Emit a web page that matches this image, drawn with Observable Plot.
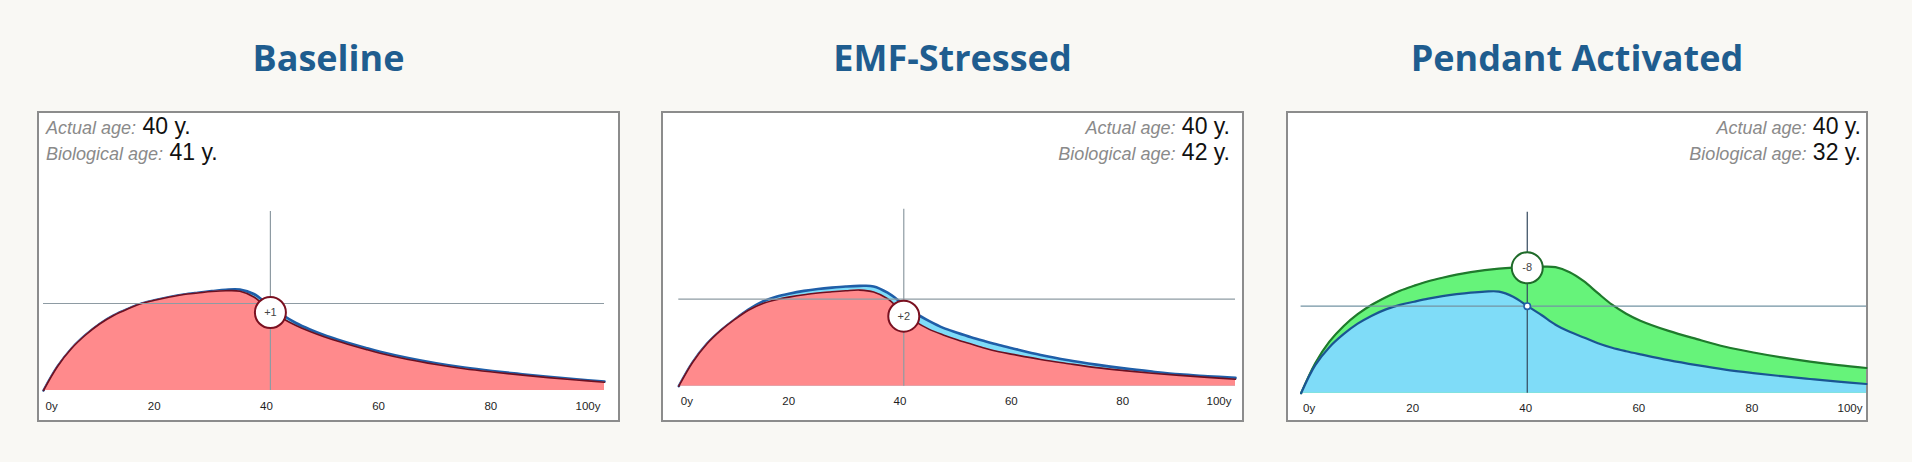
<!DOCTYPE html>
<html>
<head>
<meta charset="utf-8">
<script src="https://cdn.jsdelivr.net/npm/d3@7"></script>
<script src="https://cdn.jsdelivr.net/npm/@observablehq/plot@0.6"></script>
<style>
  html, body { margin: 0; padding: 0; }
  body { width: 1912px; height: 462px; overflow: hidden; position: relative; background: #f9f8f4; font-family: "Liberation Sans", Arial, sans-serif; }
  .title { position: absolute; top: 40px; font: 700 36px/36px "Open Sans", sans-serif; color: #1f5d8f; text-align: center; white-space: nowrap; }
  .box { position: absolute; top: 111px; height: 307px; border: 2px solid #8c8c8c; background: #fff; }
  .box svg { position: absolute; left: 0; top: 0; }
  .ages { position: absolute; top: 1px; font-size: 23px; line-height: 24px; color: #111; z-index: 2; white-space: nowrap; }
  .ages .lbl { font-size: 18px; font-style: italic; color: #8a8a8a; }
</style>
</head>
<body>
<script>
// ---- data ----
const ages = [0, 2.5, 5, 7.5, 10, 12.5, 15, 17.5, 20, 22.5, 25, 27.5, 30, 32.5, 35, 37.5, 40, 42.5, 45, 47.5, 50, 52.5, 55, 57.5, 60, 65, 70, 75, 80, 85, 90, 95, 100];

// Baseline panel
const baselineReference = [0, 24, 42, 55.5, 66.5, 75, 81.5, 87, 90.5, 93.5, 96, 97.8, 99.4, 100.8, 100.9, 96.5, 86, 76, 67.5, 61, 55.5, 50.8, 46.5, 42.5, 38.8, 32.5, 27.3, 23, 19.5, 16.5, 13.7, 11.2, 9];
const baselineBiological = [0, 24, 42, 55.5, 66.5, 75, 81.5, 87, 90.5, 93.5, 96, 97.5, 99, 99.8, 99.3, 93.5, 82, 72.5, 65, 59, 53.8, 49.2, 45, 41, 37.3, 31, 26, 21.8, 18.5, 15.6, 12.9, 10.5, 8.3];

// EMF-Stressed panel
const emfReference = [0, 24, 42, 55.5, 66.5, 76.5, 84.5, 89.5, 92.8, 95.3, 97.2, 98.6, 99.7, 100.3, 99.8, 93.5, 83.5, 73, 65, 58.3, 53.5, 49, 45, 41.2, 37.8, 31.3, 26, 21.6, 17.8, 14.6, 11.8, 10, 8.3];
const emfBiological = [0, 24, 42, 55.5, 66.5, 76, 82.5, 86.5, 89.3, 91.5, 93.2, 94.4, 95.4, 96.1, 94.2, 87.5, 75, 64.5, 56.8, 51.3, 46.5, 42.2, 38, 34.5, 31.8, 26.7, 22.5, 18.6, 15.6, 13, 10.8, 8.8, 7];

// Pendant Activated panel
const pendantReference = [0, 28, 46, 59, 69.5, 77.5, 83.8, 88.3, 91.5, 94.5, 97, 99, 100.6, 101.6, 101.6, 96.5, 87.3, 78.2, 68.5, 61.5, 55.8, 50, 45.5, 42, 38.9, 33, 28, 23.6, 20.1, 17, 14.2, 11.5, 9.2];
const pendantBiological = [0, 30, 51.5, 67, 79, 88.5, 96, 102.5, 107.5, 112, 115.5, 118.5, 121, 123, 124.5, 125.5, 126.1, 126.5, 126, 121, 112, 100, 88.5, 79.5, 72.5, 62.3, 54.1, 46.5, 40.7, 35.8, 31.6, 28.1, 25.2];

const panelTitles = ["Baseline", "EMF-Stressed", "Pendant Activated"];
const actualAges = [40, 40, 40];
const biologicalAges = [41, 42, 32];
const deltaLabels = ["+1", "+2", "-8"];
const markerValues = [78, 70, 125.4];
const referenceLevel = 87;
const crosshairTop = [179, 177, 181];
const xTicks = [0, 20, 40, 60, 80, 100];
const xTickLabels = ["0y", "20", "40", "60", "80", "100y"];

// ---- layout / style ----
const RED = {fill: "#ff8a8c", stroke: "#6b1021"};
const LIGHTBLUE = {fill: "#7fdcf8", stroke: "#1f5ea8"};
const LIGHTBLUE3 = {fill: "#7fdcf8", stroke: "#1a5592"};
const GREEN = {fill: "#66f37a", stroke: "#1f7a2c"};

const panels = [
  {left: 37, width: 583, ml: 4, mr: 14, mb: 30, agesSide: "left", agesPad: 7, ruleDx: 2.5,
   back: {values: baselineReference, ...LIGHTBLUE, sw: 2.6}, front: {values: baselineBiological, ...RED, sw: 1.6},
   markerStroke: "#7a1020", hColor: "#8e9ba3", vColor: "#8e9ba3", smallDot: false},
  {left: 661, width: 583, ml: 15.3, mr: 7, mb: 34.3, agesSide: "right", agesPad: 12, ruleDx: 2.3,
   back: {values: emfReference, ...LIGHTBLUE, sw: 2.6}, front: {values: emfBiological, ...RED, sw: 1.6},
   markerStroke: "#7a1020", hColor: "#8e9ba3", vColor: "#8e9ba3", smallDot: false},
  {left: 1286, width: 582, ml: 12.6, mr: 0, mb: 27.3, agesSide: "right", agesPad: 5, ruleDx: 0,
   back: {values: pendantBiological, ...GREEN, sw: 2.2}, front: {values: pendantReference, ...LIGHTBLUE3, sw: 2.2},
   markerStroke: "#1f6b2a", hColor: "#7393a3", vColor: "#34495e", smallDot: true}
];

const INNER_H = 307;
const Y_MAX = 180;

panels.forEach((p, i) => {
  const innerW = p.width - 4;
  const t = document.createElement("div");
  t.className = "title";
  t.style.left = p.left + "px";
  t.style.width = p.width + "px";
  t.textContent = panelTitles[i];
  document.body.appendChild(t);

  const box = document.createElement("div");
  box.className = "box";
  box.style.left = p.left + "px";
  box.style.width = innerW + "px";
  document.body.appendChild(box);

  const back = ages.map((a, k) => ({age: a, v: p.back.values[k]}));
  const front = ages.map((a, k) => ({age: a, v: p.front.values[k]}));
  const curve = "catmull-rom";
  const tickData = xTicks.map((x, k) => ({x, label: xTickLabels[k]}));
  const marker = [{age: actualAges[i], v: markerValues[i], label: deltaLabels[i]}];
  const tickStyle = {fontSize: 11.5, fill: "#1e1e1e", fontWeight: 500, dy: 15.5};

  const marks = [
    Plot.areaY(back, {x: "age", y: "v", fill: p.back.fill, curve}),
    Plot.lineY(back, {x: "age", y: "v", stroke: p.back.stroke, strokeWidth: p.back.sw, curve}),
    Plot.areaY(front, {x: "age", y: "v", fill: p.front.fill, curve}),
    Plot.lineY(front, {x: "age", y: "v", stroke: p.front.stroke, strokeWidth: p.front.sw, curve}),
    Plot.ruleY([referenceLevel], {x1: 0, x2: 100, stroke: p.hColor, strokeWidth: 1.2}),
    Plot.ruleX([actualAges[i]], {y1: 0, y2: crosshairTop[i], stroke: p.vColor, strokeWidth: 1.2, dx: p.ruleDx}),
    Plot.dot(marker, {x: "age", y: "v", r: 15.5, fill: "white", stroke: p.markerStroke, strokeWidth: 2, dx: p.ruleDx}),
    Plot.text(marker, {x: "age", y: "v", text: "label", fontSize: 11, fill: "#444", dx: p.ruleDx}),
    Plot.text(tickData.slice(0, 1), {x: "x", y: () => 0, text: "label", textAnchor: "start", dx: 2, ...tickStyle}),
    Plot.text(tickData.slice(1, -1), {x: "x", y: () => 0, text: "label", dx: -1.5, ...tickStyle}),
    Plot.text(tickData.slice(-1), {x: "x", y: () => 0, text: "label", textAnchor: "end", dx: -4, ...tickStyle})
  ];
  if (p.smallDot) {
    marks.push(Plot.dot([{age: actualAges[i], v: referenceLevel}], {x: "age", y: "v", r: 3.2, fill: "white", stroke: "#1f5ea8", strokeWidth: 1.6}));
  }

  const chart = Plot.plot({
    width: innerW,
    height: INNER_H,
    marginLeft: p.ml,
    marginRight: p.mr,
    marginBottom: p.mb,
    marginTop: INNER_H - p.mb - Y_MAX,
    x: {domain: [0, 100], axis: null},
    y: {domain: [0, Y_MAX], axis: null},
    style: {background: "transparent", fontFamily: "'Liberation Sans', Arial, sans-serif", overflow: "visible"},
    marks
  });
  box.appendChild(chart);

  const ag = document.createElement("div");
  ag.className = "ages";
  if (p.agesSide === "left") { ag.style.left = p.agesPad + "px"; ag.style.textAlign = "left"; }
  else { ag.style.right = p.agesPad + "px"; ag.style.textAlign = "right"; }
  ag.innerHTML = `<div><span class="lbl">Actual age:</span> ${actualAges[i]} y.</div>` +
                 `<div><span class="lbl">Biological age:</span> ${biologicalAges[i]} y.</div>`;
  box.appendChild(ag);
});
</script>
</body>
</html>
